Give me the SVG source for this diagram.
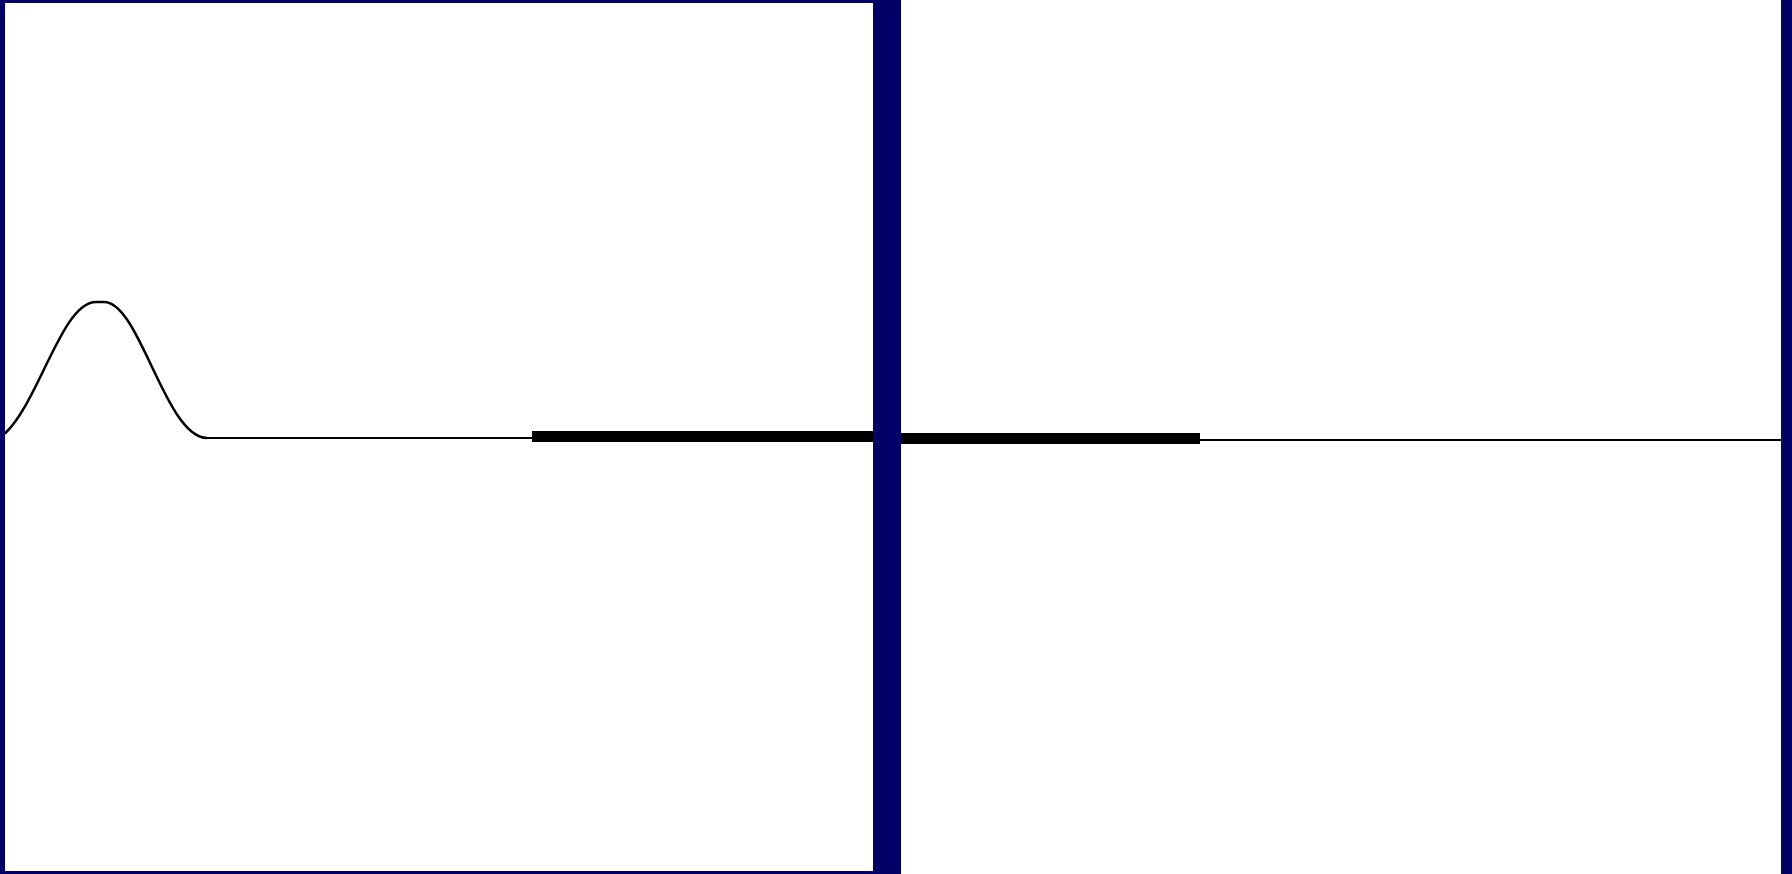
<svg xmlns="http://www.w3.org/2000/svg" width="1792" height="874" viewBox="0 0 1792 874">
<style>
.frame{fill:#000066}
.wave{fill:none;stroke:#000;stroke-width:2.5;stroke-linejoin:round}
.bar{fill:#000}
</style>
<rect width="1792" height="874" fill="#fff"/>
<g id="left-panel">
<rect class="frame" x="0" y="0" width="5" height="874"/>
<rect class="frame" x="0" y="0" width="873" height="3"/>
<rect class="frame" x="0" y="871" width="873" height="3"/>
</g>
<g id="divider">
<rect class="frame" x="873" y="0" width="28" height="874"/>
</g>
<g id="right-edge">
<rect class="frame" x="1781" y="0" width="11" height="874"/>
</g>
<g id="signal">
<path class="wave" d="M5,433.5 C40,400 62,302 96,302 L104,302 C140,302 165,437 207,438"/>
<rect class="bar" x="206" y="437" width="326" height="2"/>
<rect class="bar" x="532" y="431" width="341" height="11"/>
<rect class="bar" x="901" y="433" width="299" height="11"/>
<rect class="bar" x="1200" y="439" width="581" height="2"/>
</g>
</svg>
